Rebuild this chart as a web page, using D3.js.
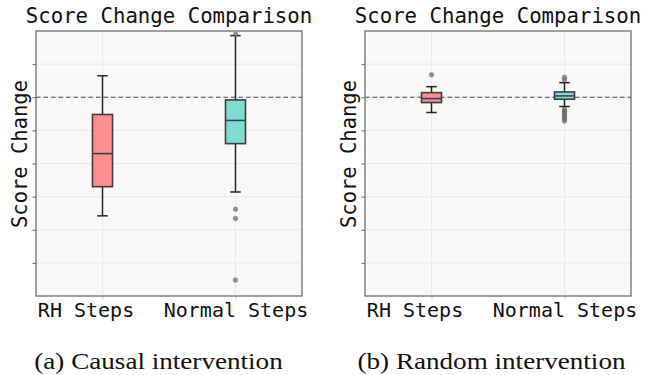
<!DOCTYPE html>
<html>
<head>
<meta charset="utf-8">
<script src="https://cdn.jsdelivr.net/npm/d3@7"></script>
<style>
  body { margin: 0; background: #fff; }
  svg { display: block; }
</style>
</head>
<body>
<div id="chart"></div>
<script>
// groups and tick values
const groups = ['RH Steps', 'Normal Steps'];
const yTicks = [-2.5, -2, -1.5, -1, -0.5, 0, 0.5];
const panelTitles = ['Score Change Comparison', 'Score Change Comparison'];
const captions = ['(a) Causal intervention', '(b) Random intervention'];
const boxColors = ['#ff8f8f', '#7fdcd2'];

// (a) causal intervention: per-group box stats
const causalLow = [-1.79, -1.43];
const causalQ1 = [-1.35, -0.70];
const causalMedian = [-0.85, -0.35];
const causalQ3 = [-0.26, -0.04];
const causalHigh = [0.325, 0.93];
const causalOutliers = [[], [0.95, -1.69, -1.83, -2.76]];

// (b) random intervention
const randomLow = [-0.23, -0.14];
const randomQ1 = [-0.08, -0.03];
const randomMedian = [-0.02, 0.02];
const randomQ3 = [0.07, 0.08];
const randomHigh = [0.16, 0.22];
const randomOutliers = [[0.34], [0.30, 0.26, -0.18, -0.21, -0.24, -0.27, -0.30, -0.33, -0.36]];

const panels = [
  { low: causalLow, q1: causalQ1, med: causalMedian, q3: causalQ3, high: causalHigh, out: causalOutliers },
  { low: randomLow, q1: randomQ1, med: randomMedian, q3: randomQ3, high: randomHigh, out: randomOutliers }
];

const W = 659, H = 375;
const svg = d3.select('#chart').append('svg').attr('width', W).attr('height', H);

const plotW = 266, plotH = 265, plotTop = 31;
const lefts = [36, 365];
const captionX = [158.5, 491.5];

panels.forEach((p, i) => {
  const left = lefts[i];
  const g = svg.append('g').attr('transform', `translate(${left},${plotTop})`);

  const x = d3.scalePoint().domain(groups).range([0, plotW]).padding(0.5);
  const y = d3.scaleLinear().domain([-3, 1]).range([plotH, 0]);

  g.append('rect')
    .attr('width', plotW).attr('height', plotH)
    .attr('fill', '#f8f8f8');

  // grid
  g.append('g').selectAll('line')
    .data(yTicks)
    .join('line')
    .attr('x1', 0).attr('x2', plotW)
    .attr('y1', d => y(d)).attr('y2', d => y(d))
    .attr('stroke', '#e4e4e4').attr('stroke-width', 0.8);
  g.append('g').selectAll('line')
    .data(groups)
    .join('line')
    .attr('x1', d => x(d)).attr('x2', d => x(d))
    .attr('y1', 0).attr('y2', plotH)
    .attr('stroke', '#e4e4e4').attr('stroke-width', 0.8);

  // zero line
  g.append('line')
    .attr('x1', 0).attr('x2', plotW)
    .attr('y1', y(0)).attr('y2', y(0))
    .attr('stroke', '#3a5064').attr('stroke-width', 1.2)
    .attr('stroke-dasharray', '4.5,3');

  const boxW = 20, capW = 10.5;
  const items = groups.map((name, k) => ({
    name, k, low: p.low[k], q1: p.q1[k], med: p.med[k], q3: p.q3[k], high: p.high[k]
  }));

  const box = g.append('g').selectAll('g')
    .data(items)
    .join('g')
    .attr('transform', d => `translate(${x(d.name)},0)`);

  // whiskers
  box.append('line')
    .attr('y1', d => y(d.high)).attr('y2', d => y(d.q3))
    .attr('stroke', '#222').attr('stroke-width', 1.5);
  box.append('line')
    .attr('y1', d => y(d.q1)).attr('y2', d => y(d.low))
    .attr('stroke', '#222').attr('stroke-width', 1.5);
  box.append('line')
    .attr('x1', -capW / 2).attr('x2', capW / 2)
    .attr('y1', d => y(d.high)).attr('y2', d => y(d.high))
    .attr('stroke', '#222').attr('stroke-width', 1.5);
  box.append('line')
    .attr('x1', -capW / 2).attr('x2', capW / 2)
    .attr('y1', d => y(d.low)).attr('y2', d => y(d.low))
    .attr('stroke', '#222').attr('stroke-width', 1.5);

  box.append('rect')
    .attr('x', -boxW / 2).attr('width', boxW)
    .attr('y', d => y(d.q3))
    .attr('height', d => y(d.q1) - y(d.q3))
    .attr('fill', d => boxColors[d.k])
    .attr('stroke', '#3c3c3c').attr('stroke-width', 1.6);

  box.append('line')
    .attr('x1', -boxW / 2).attr('x2', boxW / 2)
    .attr('y1', d => y(d.med)).attr('y2', d => y(d.med))
    .attr('stroke', '#2c3e55').attr('stroke-width', 1.5);

  // outliers
  const outPts = [];
  groups.forEach((name, k) => p.out[k].forEach(v => outPts.push({ name, v })));
  g.append('g').selectAll('circle')
    .data(outPts)
    .join('circle')
    .attr('cx', d => x(d.name))
    .attr('cy', d => y(d.v))
    .attr('r', 2.3)
    .attr('fill', '#707070').attr('fill-opacity', 0.75)
    .attr('stroke', '#555').attr('stroke-opacity', 0.6).attr('stroke-width', 0.6);

  // y axis ticks (no labels)
  g.append('g')
    .call(d3.axisLeft(y).tickValues(yTicks).tickSize(3.5).tickFormat(''))
    .call(a => a.select('.domain').remove())
    .call(a => a.selectAll('line').attr('stroke', '#666'));

  // x ticks and labels
  g.append('g')
    .attr('transform', `translate(0,${plotH})`)
    .call(d3.axisBottom(x).tickSize(3.5).tickPadding(3))
    .call(a => a.select('.domain').remove())
    .call(a => a.selectAll('line').attr('stroke', '#ccc'))
    .call(a => a.selectAll('text')
      .attr('font-family', 'DejaVu Sans Mono')
      .attr('font-size', 20)
      .attr('dx', d => d === groups[0] ? -17 : 0)
      .attr('fill', '#111'));

  // frame
  g.append('rect')
    .attr('width', plotW).attr('height', plotH)
    .attr('fill', 'none')
    .attr('stroke', '#6e6e6e').attr('stroke-width', 1.3);

  // title
  svg.append('text')
    .attr('x', left + plotW / 2).attr('y', 23)
    .attr('text-anchor', 'middle')
    .attr('font-family', 'DejaVu Sans Mono')
    .attr('font-size', 20.7)
    .attr('fill', '#111')
    .text(panelTitles[i]);

  // y label
  svg.append('text')
    .attr('transform', `translate(${left - 9},${plotTop + 123}) rotate(-90)`)
    .attr('text-anchor', 'middle')
    .attr('font-family', 'DejaVu Sans Mono')
    .attr('font-size', 20.5)
    .attr('fill', '#111')
    .text('Score Change');

  // caption (slightly wide serif, as in the source figure)
  svg.append('text')
    .attr('transform', `translate(${captionX[i]},369) scale(1.13,1)`)
    .attr('text-anchor', 'middle')
    .attr('font-family', 'Liberation Serif, Times New Roman, serif')
    .attr('font-size', 24)
    .attr('fill', '#111')
    .text(captions[i]);
});
</script>
</body>
</html>
